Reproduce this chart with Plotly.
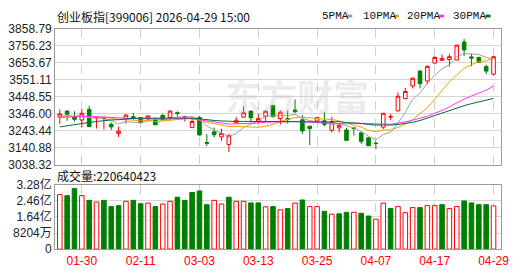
import plotly.graph_objects as go
import pandas as pd

# ---------------- data ----------------
dates = [
    "2026-01-27", "2026-01-28", "2026-01-29", "2026-01-30",
    "2026-02-02", "2026-02-03", "2026-02-04", "2026-02-05", "2026-02-06",
    "2026-02-09", "2026-02-10", "2026-02-11", "2026-02-12", "2026-02-13",
    "2026-02-24", "2026-02-25", "2026-02-26", "2026-02-27",
    "2026-03-02", "2026-03-03", "2026-03-04", "2026-03-05", "2026-03-06",
    "2026-03-09", "2026-03-10", "2026-03-11", "2026-03-12", "2026-03-13",
    "2026-03-16", "2026-03-17", "2026-03-18", "2026-03-19", "2026-03-20",
    "2026-03-23", "2026-03-24", "2026-03-25", "2026-03-26", "2026-03-27",
    "2026-03-30", "2026-03-31", "2026-04-01", "2026-04-02", "2026-04-03",
    "2026-04-07", "2026-04-08", "2026-04-09", "2026-04-10",
    "2026-04-13", "2026-04-14", "2026-04-15", "2026-04-16", "2026-04-17",
    "2026-04-20", "2026-04-21", "2026-04-22", "2026-04-23", "2026-04-24",
    "2026-04-27", "2026-04-28", "2026-04-29",
]

open_ = [3325.8, 3361.8, 3325.8, 3307.5, 3372.0, 3320.1, 3316.1, 3281.8, 3226.4, 3314.4,
         3327.5, 3321.8, 3314.4, 3307.5, 3334.9, 3323.5, 3352.1, 3325.8, 3261.8, 3323.5,
         3171.5, 3236.1, 3205.8, 3160.1, 3290.4, 3324.7, 3361.8, 3300.7, 3330.4, 3394.3,
         3316.1, 3316.1, 3367.5, 3308.6, 3270.4, 3301.8, 3302.9, 3245.8, 3260.6, 3247.5,
         3260.6, 3230.4, 3200.1, 3167.5, 3264.7, 3325.8, 3362.9, 3437.2, 3513.2, 3603.4,
         3542.9, 3651.4, 3668.5, 3673.1, 3670.3, 3778.8, 3689.1, 3685.7, 3630.3, 3584.6]
high = [3371.5, 3365.8, 3360.1, 3372.0, 3394.9, 3329.2, 3324.7, 3293.2, 3267.5, 3342.9,
        3350.4, 3327.5, 3337.2, 3323.5, 3346.3, 3365.8, 3360.1, 3333.2, 3322.0, 3333.2,
        3221.8, 3261.8, 3254.9, 3224.6, 3324.7, 3392.1, 3361.8, 3346.3, 3367.5, 3400.1,
        3365.8, 3365.8, 3432.0, 3337.2, 3270.4, 3327.5, 3356.1, 3327.5, 3289.2, 3260.6,
        3261.8, 3232.1, 3201.8, 3178.9, 3350.4, 3344.6, 3474.3, 3501.7, 3565.7, 3609.1,
        3637.7, 3693.1, 3702.8, 3707.4, 3761.7, 3797.7, 3708.6, 3690.3, 3641.7, 3696.0]
low = [3283.5, 3302.9, 3298.9, 3262.9, 3267.5, 3256.1, 3250.3, 3247.5, 3203.5, 3285.8,
       3308.6, 3289.2, 3298.9, 3277.8, 3307.5, 3308.6, 3327.5, 3298.9, 3261.8, 3213.3,
       3150.4, 3201.8, 3181.8, 3113.3, 3289.2, 3323.5, 3293.2, 3289.2, 3300.7, 3327.5,
       3280.1, 3285.8, 3350.4, 3223.0, 3156.1, 3289.2, 3270.4, 3232.1, 3232.1, 3184.7,
       3213.3, 3161.8, 3150.4, 3130.4, 3251.6, 3308.6, 3360.1, 3432.0, 3498.9, 3498.9,
       3523.5, 3651.4, 3664.6, 3630.3, 3667.4, 3694.3, 3632.0, 3653.2, 3584.6, 3576.0]
close = [3344.6, 3342.9, 3312.1, 3348.6, 3267.5, 3325.8, 3320.7, 3266.4, 3240.1, 3337.2,
         3317.8, 3291.5, 3332.1, 3278.9, 3308.6, 3361.8, 3347.5, 3328.6, 3298.9, 3217.2,
         3167.5, 3218.9, 3226.4, 3212.1, 3306.4, 3351.5, 3321.8, 3316.1, 3360.1, 3327.5,
         3354.4, 3310.4, 3357.8, 3241.8, 3256.1, 3321.8, 3281.8, 3298.9, 3276.1, 3184.7,
         3256.1, 3178.9, 3152.1, 3165.8, 3348.6, 3327.5, 3451.5, 3480.0, 3560.0, 3527.5,
         3632.0, 3685.7, 3679.9, 3690.3, 3760.0, 3731.4, 3681.7, 3656.0, 3603.4, 3690.3]
volume = [278000000, 273000000, 309000000, 273000000, 249000000, 240000000, 249000000, 217000000,
          222000000, 244000000, 249000000, 232000000, 235000000, 217000000, 230000000, 244000000,
          265000000, 249000000, 289000000, 297000000, 227000000, 249000000, 230000000, 265000000,
          244000000, 244000000, 236000000, 236000000, 216000000, 217000000, 201000000, 207000000,
          235000000, 251000000, 217000000, 217000000, 193000000, 178000000, 180000000, 188000000,
          188000000, 183000000, 169000000, 153000000, 235000000, 207000000, 217000000, 186000000,
          212000000, 212000000, 222000000, 222000000, 227000000, 207000000, 217000000, 246000000,
          236000000, 227000000, 227000000, 220640423]
# closes of the 29 sessions before the first visible one (only used for the moving averages)
pre_close = [3105, 3120, 3098, 3135, 3150, 3142, 3170, 3185, 3200, 3215,
             3260, 3290, 3310, 3325, 3330, 3335, 3340, 3330, 3345, 3345,
             3330, 3310, 3305, 3325, 3325, 3320, 3335, 3325, 3330]

tick_labels = ["01-30", "02-11", "03-03", "03-13", "03-25", "04-07", "04-17", "04-29"]
price_ticks = [3038.32, 3140.88, 3243.44, 3346.00, 3448.55, 3551.11, 3653.67, 3756.23, 3858.79]
vol_ticks = [0, 82040000, 164080000, 246120000, 328160000]
vol_tick_text = ["0", "8204万", "1.64亿", "2.46亿", "3.28亿"]
ma_periods = [5, 10, 20, 30]
ma_names = ["5PMA", "10PMA", "20PMA", "30PMA"]
ma_colors = ["#a0a0a0", "#f0a000", "#ff33ff", "#006b3c"]
title_text = "创业板指[399006] 2026-04-29 15:00"

# ---------------- derived ----------------
W, H = 530, 276
RED, GREEN = "#ff0000", "#008000"
n = len(dates)
x = list(range(n))
tick_idx = [dates.index("2026-" + t) for t in tick_labels]

all_close = pd.Series(pre_close + close, dtype=float)
ma = {p: all_close.rolling(p).mean().iloc[len(pre_close):].tolist() for p in ma_periods}
prev_close = [pre_close[-1]] + close[:-1]
up_day = [c >= pc for c, pc in zip(close, prev_close)]

x_dom = [56 / W, 509 / W]
y1_dom = [1 - 165.6 / H, 1 - 22 / H]
y2_dom = [1 - 255 / H, 1 - 187 / H]
x_range = [-0.63, 60.06]

fig = go.Figure()

fig.add_trace(go.Candlestick(
    x=x, open=open_, high=high, low=low, close=close,
    increasing=dict(line=dict(color=RED, width=1), fillcolor="#ffffff"),
    decreasing=dict(line=dict(color=GREEN, width=1), fillcolor=GREEN),
    whiskerwidth=0, xaxis="x", yaxis="y", showlegend=False, hoverinfo="skip",
))
for p, name, col in zip(ma_periods, ma_names, ma_colors):
    fig.add_trace(go.Scatter(
        x=x, y=ma[p], mode="lines", name=name,
        line=dict(color=col, width=1), xaxis="x", yaxis="y",
        showlegend=False, hoverinfo="skip",
    ))

fig.add_trace(go.Bar(
    x=x, y=volume, width=0.62,
    marker=dict(color=["#ffffff" if u else GREEN for u in up_day],
                line=dict(color=[RED if u else GREEN for u in up_day], width=1)),
    xaxis="x2", yaxis="y2", showlegend=False, hoverinfo="skip",
))

axis_font = dict(family="Liberation Sans, Noto Sans CJK SC", size=12, color="#222222")
grid_common = dict(showline=True, mirror=True, linecolor="#9a9a9a", linewidth=1,
                   zeroline=False, ticks="")

fig.update_layout(
    width=W, height=H,
    margin=dict(l=0, r=0, t=0, b=0),
    paper_bgcolor="#ffffff", plot_bgcolor="#ffffff",
    showlegend=False, boxgap=0.3,
    xaxis=dict(domain=x_dom, range=x_range, tickvals=tick_idx, showticklabels=False,
               showgrid=True, gridcolor="#cfcfcf", griddash="dash", gridwidth=1,
               rangeslider=dict(visible=False), anchor="y", **grid_common),
    yaxis=dict(domain=y1_dom, range=[price_ticks[0], price_ticks[-1]], tickvals=price_ticks,
               ticktext=[f"{v:.2f}" for v in price_ticks], tickfont=axis_font,
               showgrid=True, gridcolor="#d6d6d6", anchor="x", **grid_common),
    xaxis2=dict(domain=x_dom, range=x_range, tickvals=tick_idx, ticktext=tick_labels,
                tickfont=dict(family="Liberation Sans", size=12, color=RED),
                showgrid=True, gridcolor="#cfcfcf", griddash="dash", gridwidth=1,
                anchor="y2", **grid_common),
    yaxis2=dict(domain=y2_dom, range=[0, vol_ticks[-1]], tickvals=vol_ticks,
                ticktext=vol_tick_text, tickfont=axis_font,
                showgrid=True, gridcolor="#d6d6d6", anchor="x2", **grid_common),
)

annotations = [
    dict(text=title_text, x=56 / W, y=1 - 8.5 / H, xanchor="left", yanchor="middle",
         font=dict(family="Noto Sans CJK SC", size=12, color="#111111")),
    dict(text=f"成交量:{volume[-1]}", x=56 / W, y=1 - 177 / H, xanchor="left", yanchor="middle",
         font=dict(family="Noto Sans CJK SC", size=12, color="#111111")),
    dict(text="东方财富", x=302 / W, y=1 - 92 / H, xanchor="center", yanchor="middle",
         font=dict(family="Noto Sans CJK SC", size=36, weight="bold",
                   color="rgba(190,190,190,0.28)")),
]
legend_x = [325.7, 367.3, 412.7, 458.7]
legend_sq = [352.7, 400.0, 446.0, 493.0]
shapes = []
for name, col, lx, sx in zip(ma_names, ma_colors, legend_x, legend_sq):
    annotations.append(dict(text=name, x=(lx - 1) / W, y=1 - 8.5 / H, xanchor="left", yanchor="middle",
                            font=dict(family="Liberation Mono", size=11, color="#111111")))
    shapes.append(dict(type="rect", xref="paper", yref="paper",
                       x0=sx / W, x1=(sx + 5) / W, y0=1 - 10 / H, y1=1 - 7 / H,
                       fillcolor=col, line=dict(width=0)))
for a in annotations:
    a.update(xref="paper", yref="paper", showarrow=False)
fig.update_layout(annotations=annotations, shapes=shapes)

fig.write_html("out.html")
